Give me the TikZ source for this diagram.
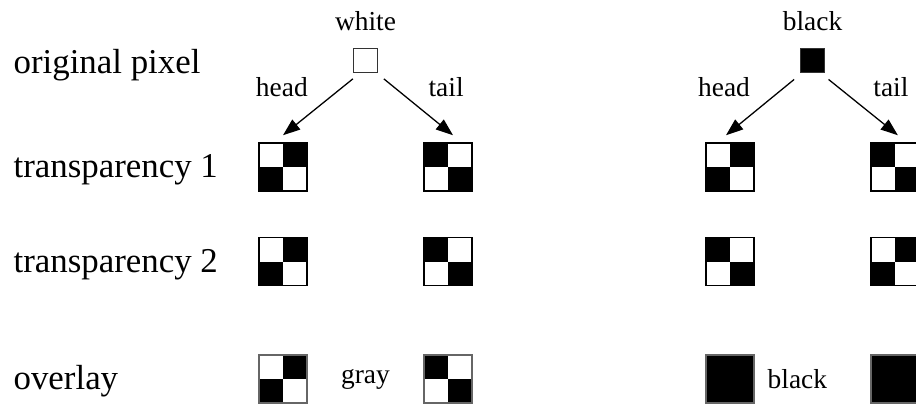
\documentclass[tikz,border=0pt]{standalone}
\usepackage{fontspec}
\setmainfont{Liberation Serif}
\usetikzlibrary{arrows.meta, positioning}

\begin{document}
\begin{tikzpicture}[x=0.35pt, y=-0.35pt,
		>={Triangle[length=6pt, width=4.4pt]},
		line width=0.45pt
	]
	\tikzstyle{RowLabel} = [
		anchor=base west,
		inner sep=0pt,
		font=\fontsize{12.2}{14}\selectfont
	]
	\tikzstyle{SmallLabel} = [font=\fontsize{9.6}{11}\selectfont]
	\tikzstyle{PixNode} = [ %one pixel of the original image
		draw=black!80,
		minimum size=8.4pt,
		inner sep=0pt
	]
	\tikzstyle{Cell} = [
		draw=black,
		minimum size=16.8pt,
		inner sep=0pt
	]
	\tikzstyle{CheckA} = [ %white top left
		Cell,
		path picture={
			\fill (path picture bounding box.north) rectangle (path picture bounding box.east);
			\fill (path picture bounding box.west) rectangle (path picture bounding box.south);
		}
	]
	\tikzstyle{CheckB} = [ %black top left
		Cell,
		path picture={
			\fill (path picture bounding box.north west) rectangle (path picture bounding box.center);
			\fill (path picture bounding box.center) rectangle (path picture bounding box.south east);
		}
	]
	\tikzstyle{Over} = [draw=black!60]
	\tikzstyle{Solid} = [Cell, fill=black]

	\useasboundingbox (0,0) rectangle (916,403);

	% row labels
	\node (lorig) [RowLabel] at (13,73) {original pixel};
	\node (ltr1) [RowLabel] at (13,177) {transparency 1};
	\node (ltr2) [RowLabel] at (13,272) {transparency 2};
	\node (lover) [RowLabel] at (13,389) {overlay};

	% white pixel
	\node (w) [PixNode] at (365.5,60.5) {};
	\node [SmallLabel, above=2.5pt of w] {white};
	\node (wh1) [CheckA] at (283,167) {};
	\node (wt1) [CheckB] at (448,167) {};
	\node (wh2) [CheckA, below=15.9pt of wh1] {};
	\node (wt2) [CheckB, below=15.9pt of wt1] {};
	\node (who) [CheckA, Over, below=23.8pt of wh2] {};
	\node (wto) [CheckB, Over, below=23.8pt of wt2] {};
	\draw[->] ([yshift=-2pt]w.south west) -- node [SmallLabel, midway, above left] {head} ([yshift=2.5pt]wh1.north);
	\draw[->] ([shift={(2pt,-2pt)}]w.south east) -- node [SmallLabel, midway, above right] {tail} ([shift={(1.75pt,2.5pt)}]wt1.north);
	\path (who) -- node [SmallLabel, midway] {gray} (wto);

	% black pixel
	\node (b) [PixNode, fill=black] at (812.5,60.5) {};
	\node [SmallLabel, above=2.5pt of b] {black};
	\node (bh1) [CheckA] at (730,167) {};
	\node (bt1) [CheckB] at (895,167) {};
	\node (bh2) [CheckB, below=15.9pt of bh1] {};
	\node (bt2) [CheckA, below=15.9pt of bt1] {};
	\node (bho) [Solid, Over, below=23.8pt of bh2] {};
	\node (bto) [Solid, Over, below=23.8pt of bt2] {};
	\draw[->] ([shift={(-2pt,-2.2pt)}]b.south west) -- node [SmallLabel, midway, above left] {head} ([shift={(-1.4pt,2.5pt)}]bh1.north);
	\draw[->] ([shift={(1.2pt,-2.2pt)}]b.south east) -- node [SmallLabel, midway, above right] {tail} ([shift={(1pt,2.5pt)}]bt1.north);
	\node [SmallLabel, right=1pt of bho] {black};
\end{tikzpicture}
\end{document}
